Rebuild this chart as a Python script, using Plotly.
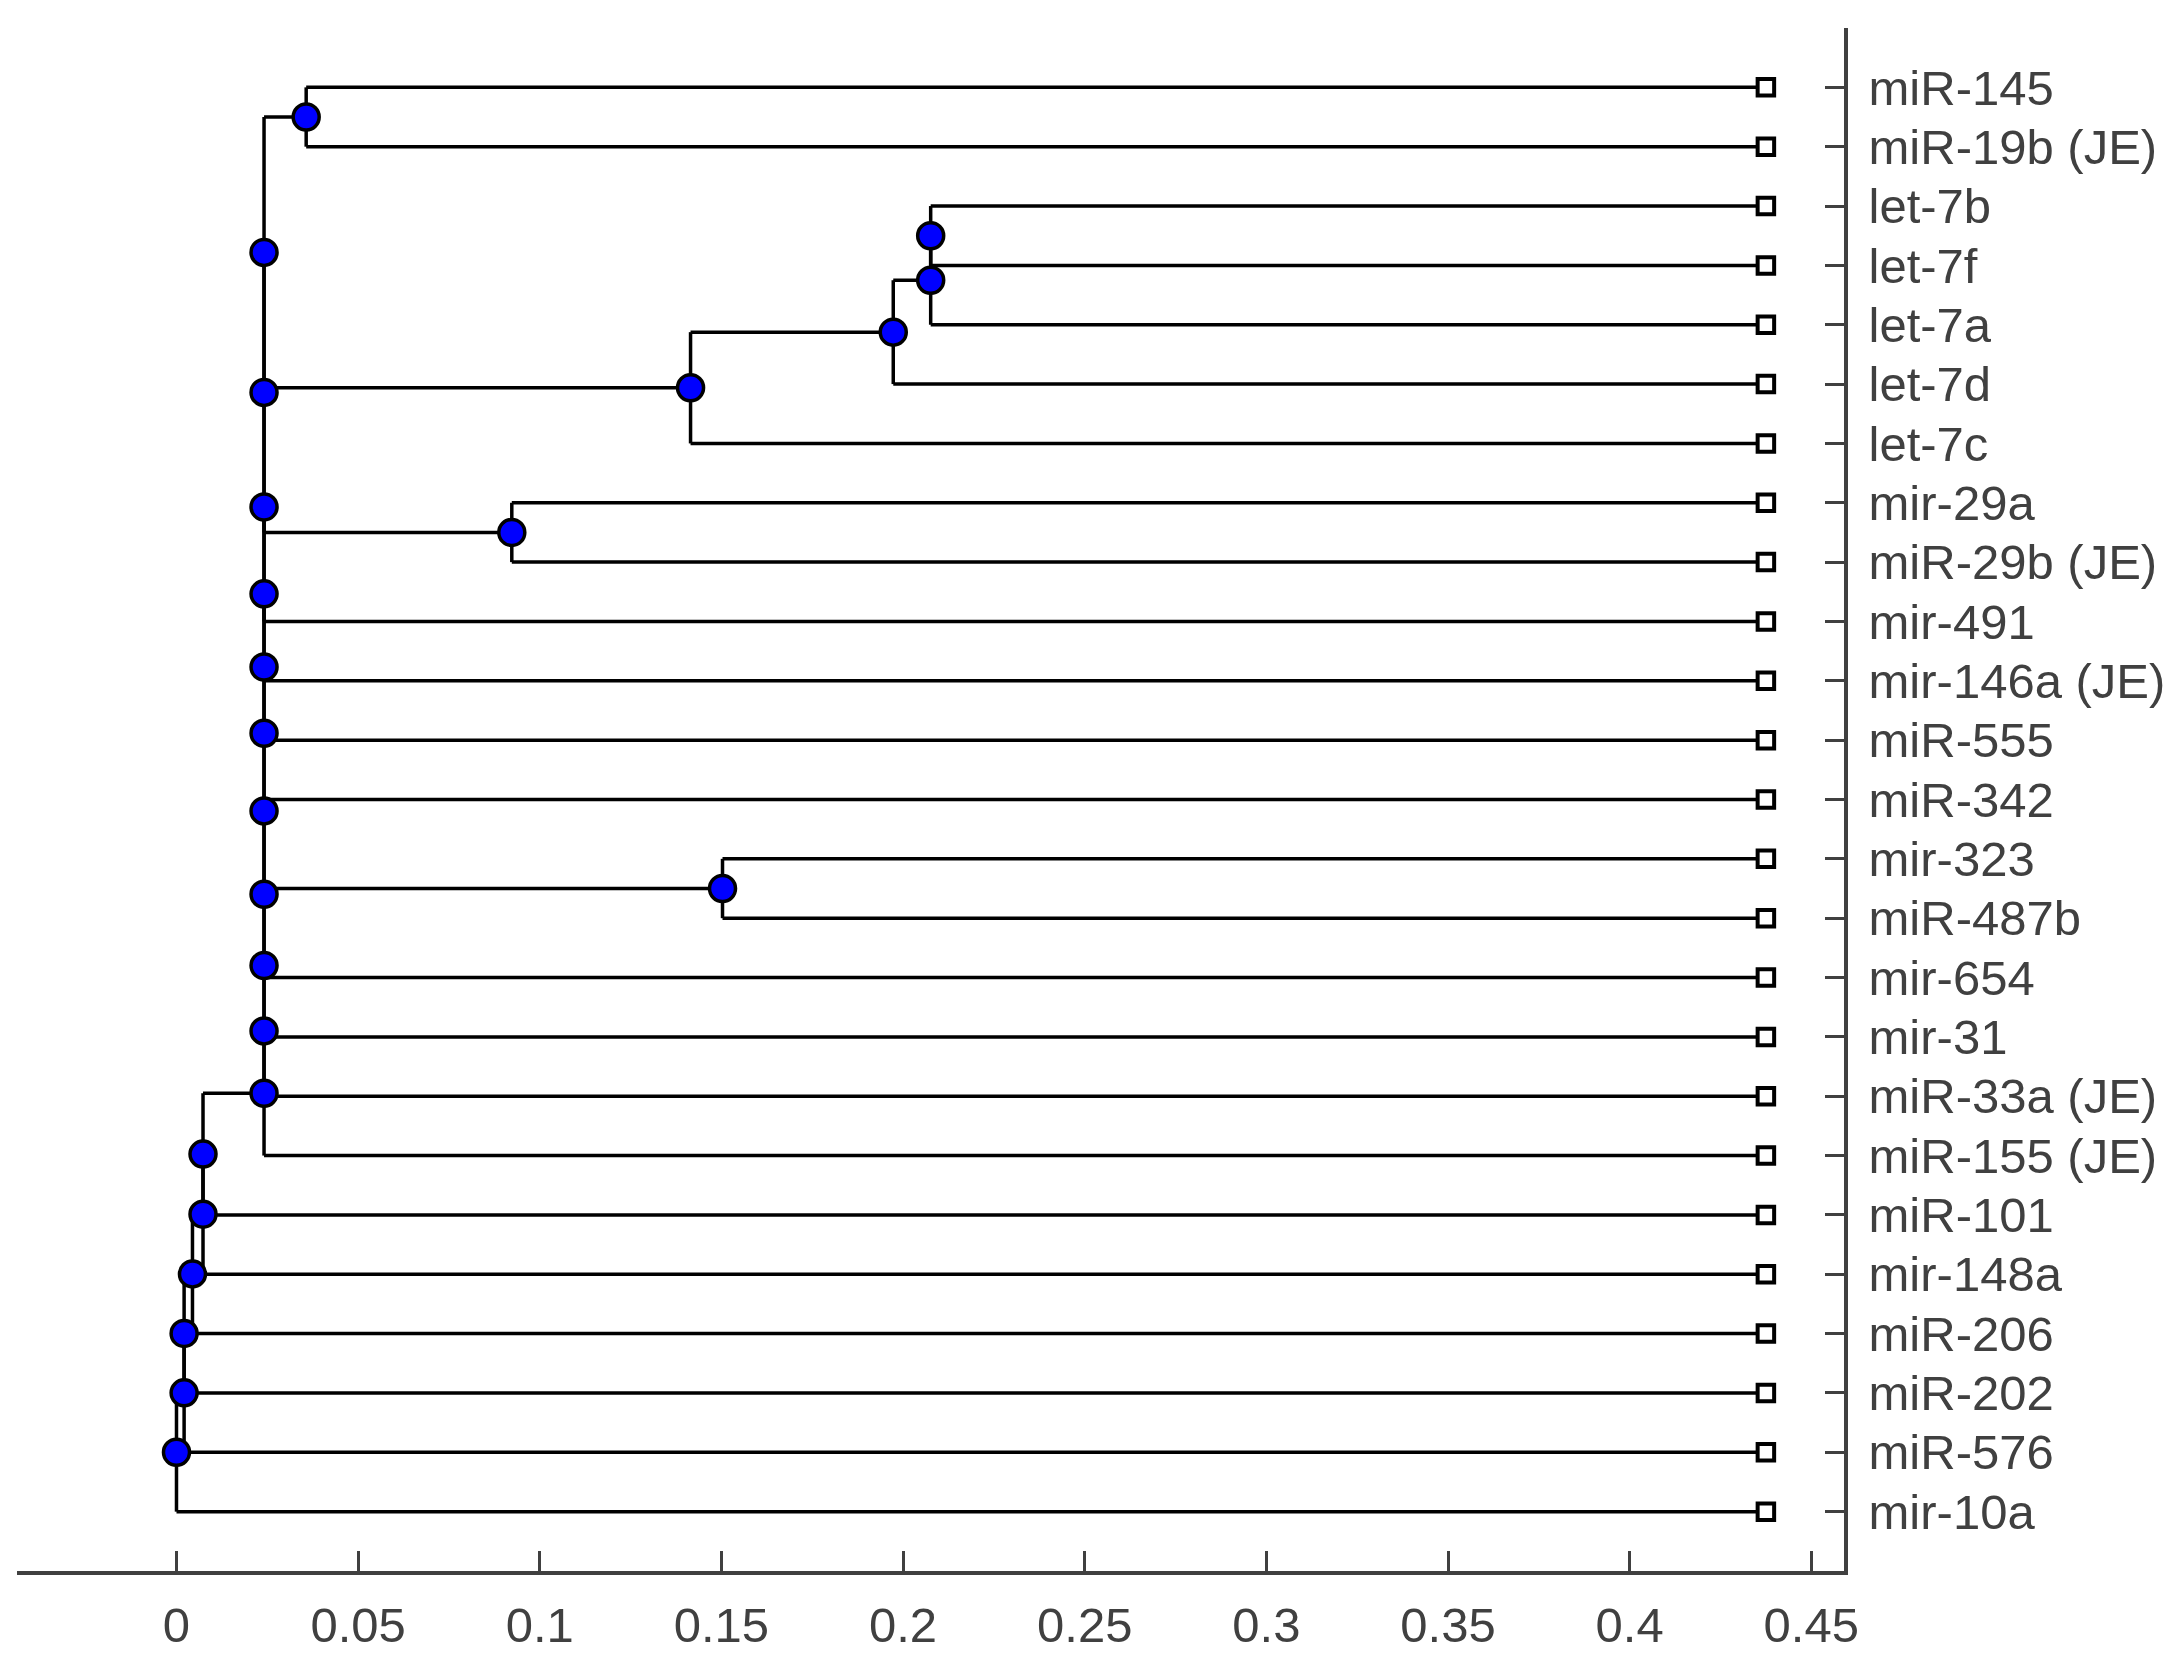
import plotly.graph_objects as go

# ---------------- data ----------------
# leaves, listed from top to bottom
leaf_names = [
    "miR-145", "miR-19b (JE)", "let-7b", "let-7f", "let-7a", "let-7d", "let-7c",
    "mir-29a", "miR-29b (JE)", "mir-491", "mir-146a (JE)", "miR-555", "miR-342",
    "mir-323", "miR-487b", "mir-654", "mir-31", "miR-33a (JE)", "miR-155 (JE)",
    "miR-101", "mir-148a", "miR-206", "miR-202", "miR-576", "mir-10a",
]
leaf_dist = [
    0.4375, 0.4375, 0.4375, 0.4375, 0.4375, 0.4375, 0.4375,
    0.4375, 0.4375, 0.4375, 0.4375, 0.4375, 0.4375,
    0.4375, 0.4375, 0.4375, 0.4375, 0.4375, 0.4375,
    0.4375, 0.4375, 0.4375, 0.4375, 0.4375, 0.4375,
]

# internal (branch) nodes: name, two children, distance from root
node_names = ["A", "N1", "N2", "N3", "N4", "X", "Y",
              "B1", "B2", "B3", "B4", "B5", "B6", "B7", "B8", "B9", "B10", "B11",
              "C1", "C2", "C3", "C4", "C5", "Root"]
node_child1 = ["miR-145", "let-7b", "N1", "N2", "N3", "mir-29a", "mir-323",
               "A", "B1", "B2", "B3", "B4", "B5", "B6", "B7", "B8", "B9", "B10",
               "B11", "C1", "C2", "C3", "C4", "C5"]
node_child2 = ["miR-19b (JE)", "let-7f", "let-7a", "let-7d", "let-7c", "miR-29b (JE)", "miR-487b",
               "N4", "X", "mir-491", "mir-146a (JE)", "miR-555", "miR-342", "Y", "mir-654",
               "mir-31", "miR-33a (JE)", "miR-155 (JE)",
               "miR-101", "mir-148a", "miR-206", "miR-202", "miR-576", "mir-10a"]
node_dist = [0.0357, 0.2076, 0.2076, 0.1973, 0.1415, 0.0923, 0.1503,
             0.0241, 0.0241, 0.0241, 0.0241, 0.0241, 0.0241, 0.0241, 0.0241, 0.0241, 0.0241, 0.0241,
             0.0073, 0.0073, 0.0044, 0.0021, 0.0021, 0.0]

x_tick_vals = [0, 0.05, 0.1, 0.15, 0.2, 0.25, 0.3, 0.35, 0.4, 0.45]
x_tick_text = ["0", "0.05", "0.1", "0.15", "0.2", "0.25", "0.3", "0.35", "0.4", "0.45"]

# ---------------- layout of tree ----------------
n_leaves = len(leaf_names)
pos_x = {}
pos_y = {}
for i, name in enumerate(leaf_names):
    pos_x[name] = leaf_dist[i]
    pos_y[name] = n_leaves - i
for name, c1, c2, d in zip(node_names, node_child1, node_child2, node_dist):
    pos_x[name] = d
    pos_y[name] = (pos_y[c1] + pos_y[c2]) / 2.0

seg_x, seg_y = [], []
for name, c1, c2 in zip(node_names, node_child1, node_child2):
    nx = pos_x[name]
    seg_x += [nx, nx, None]
    seg_y += [pos_y[c1], pos_y[c2], None]
    for c in (c1, c2):
        seg_x += [nx, pos_x[c], None]
        seg_y += [pos_y[c], pos_y[c], None]

AX = "#404040"
FONT = "Liberation Sans, Arial, Helvetica, sans-serif"
FS = 49

fig = go.Figure()
fig.add_trace(go.Scatter(x=seg_x, y=seg_y, mode="lines",
                         line=dict(color="black", width=3.5), hoverinfo="skip",
                         showlegend=False))
fig.add_trace(go.Scatter(x=[pos_x[n] for n in node_names], y=[pos_y[n] for n in node_names],
                         mode="markers",
                         marker=dict(symbol="circle", size=26, color="#0000ff",
                                     line=dict(color="black", width=3.5)),
                         text=node_names, showlegend=False))
fig.add_trace(go.Scatter(x=[pos_x[n] for n in leaf_names], y=[pos_y[n] for n in leaf_names],
                         mode="markers",
                         marker=dict(symbol="square", size=16.5, color="white",
                                     line=dict(color="black", width=4)),
                         text=leaf_names, showlegend=False))

# page body has an 8px margin: shrink the figure so the plot sits where the reference has it
fig.update_layout(
    width=2161, height=1651,
    paper_bgcolor="white", plot_bgcolor="white",
    margin=dict(l=9, r=325, t=20, b=88),
    font=dict(family=FONT, size=FS, color=AX),
)
fig.update_xaxes(
    range=[-0.0439, 0.459], showgrid=False, zeroline=False, automargin=False,
    showline=True, linecolor=AX, linewidth=3.5,
    ticks="inside", ticklen=20, tickwidth=2.5, tickcolor=AX,
    tickvals=x_tick_vals, ticktext=x_tick_text,
    tickfont=dict(family=FONT, size=FS, color=AX),
    ticklabelstandoff=8,
)
fig.update_yaxes(
    range=[0, 26], side="right", showgrid=False, zeroline=False, automargin=False,
    showline=True, linecolor=AX, linewidth=3.5,
    ticks="inside", ticklen=19, tickwidth=2.5, tickcolor=AX,
    tickvals=[pos_y[n] for n in leaf_names], ticktext=leaf_names,
    tickfont=dict(family=FONT, size=FS, color=AX),
    ticklabelstandoff=11,
)

fig.write_html("out.html")
